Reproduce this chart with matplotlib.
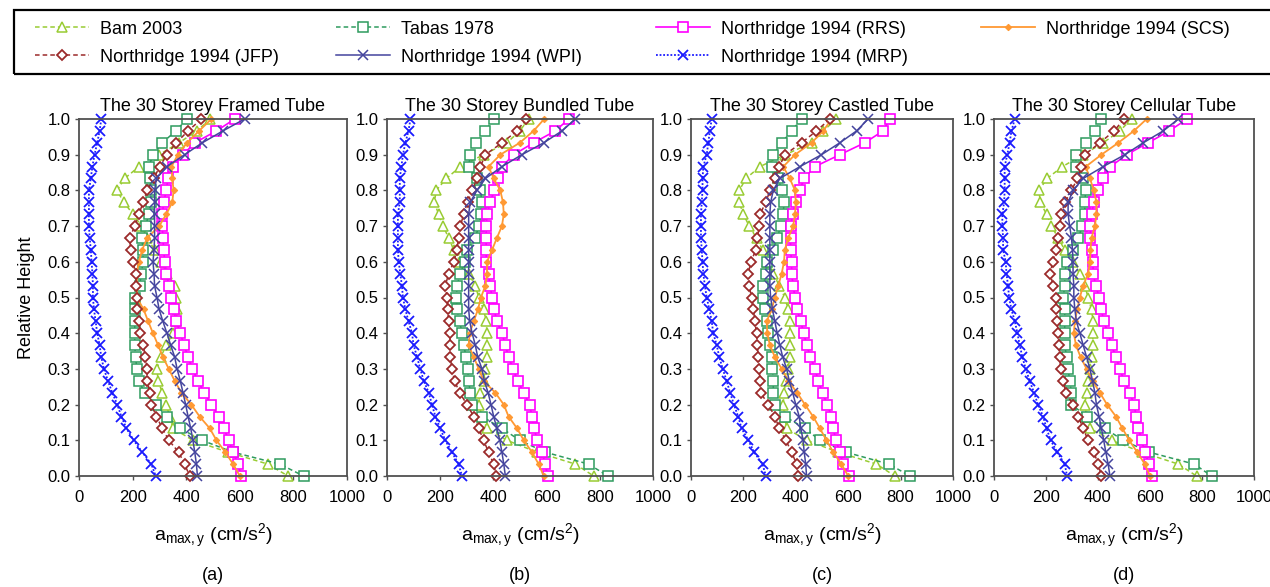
import matplotlib
matplotlib.use('Agg')
import matplotlib.pyplot as plt
from matplotlib.patches import Rectangle

plt.rcParams['font.family'] = ['Liberation Sans', 'DejaVu Sans']
plt.rcParams['mathtext.fontset'] = 'custom'
plt.rcParams['mathtext.rm'] = 'Liberation Sans'
plt.rcParams['mathtext.it'] = 'Liberation Sans'

# ---------------- data ----------------
storey = list(range(30, -1, -1))          # storey levels, top to bottom
n_storeys = 30
rel_height = [s / n_storeys for s in storey]

series_names = ['Bam 2003', 'Tabas 1978', 'Northridge 1994 (RRS)', 'Northridge 1994 (SCS)',
                'Northridge 1994 (JFP)', 'Northridge 1994 (WPI)', 'Northridge 1994 (MRP)']
panel_titles = ['The 30 Storey Framed Tube', 'The 30 Storey Bundled Tube',
                'The 30 Storey Castled Tube', 'The 30 Storey Cellular Tube']
panel_tags = ['(a)', '(b)', '(c)', '(d)']
x_ticks = [0, 200, 400, 600, 800, 1000]
y_ticks = [0.0, 0.1, 0.2, 0.3, 0.4, 0.5, 0.6, 0.7, 0.8, 0.9, 1.0]

# panel (a) Framed Tube
bam_a = [490, 440, 373, 299, 224, 170, 142, 167, 202, 233, 255, 282, 307, 328, 357, 363, 367, 363, 351, 326, 305, 291, 295, 311, 326, 338, 351, 425, 556, 705, 780]
tabas_a = [403, 361, 311, 276, 261, 264, 270, 267, 260, 249, 235, 239, 239, 233, 226, 208, 208, 208, 208, 208, 211, 216, 223, 245, 286, 328, 378, 459, 575, 749, 838]
rrs_a = [581, 513, 432, 388, 351, 332, 326, 316, 311, 311, 313, 316, 320, 326, 336, 345, 353, 363, 378, 392, 407, 423, 444, 467, 494, 522, 541, 559, 575, 593, 606]
scs_a = [494, 448, 403, 369, 345, 348, 353, 348, 326, 299, 254, 236, 223, 216, 216, 216, 241, 258, 276, 295, 313, 335, 357, 382, 419, 450, 488, 513, 546, 575, 600]
jfp_a = [457, 407, 363, 328, 301, 279, 254, 239, 224, 208, 189, 193, 202, 211, 214, 216, 218, 223, 229, 239, 248, 254, 255, 264, 270, 289, 311, 335, 372, 394, 413]
wpi_a = [618, 537, 460, 394, 328, 289, 282, 282, 282, 282, 282, 280, 276, 280, 282, 291, 299, 313, 328, 342, 357, 366, 378, 388, 398, 407, 417, 425, 432, 438, 442]
mrp_a = [83, 77, 68, 58, 50, 44, 37, 37, 37, 37, 40, 44, 47, 50, 52, 52, 56, 62, 68, 77, 83, 93, 108, 124, 143, 158, 177, 204, 236, 270, 286]

# panel (b) Bundled Tube
bam_b = [533, 499, 451, 363, 276, 223, 185, 178, 194, 211, 232, 251, 276, 307, 332, 345, 363, 373, 376, 376, 376, 370, 363, 348, 345, 357, 376, 451, 564, 708, 777]
tabas_b = [401, 370, 336, 313, 307, 338, 351, 357, 353, 345, 332, 301, 292, 276, 263, 261, 263, 273, 282, 288, 298, 303, 307, 313, 320, 357, 432, 499, 595, 758, 830]
rrs_b = [683, 633, 551, 476, 432, 416, 403, 388, 376, 373, 373, 373, 373, 382, 388, 395, 403, 413, 432, 445, 457, 474, 491, 514, 536, 545, 554, 564, 583, 595, 604]
scs_b = [591, 551, 499, 426, 382, 401, 426, 436, 439, 432, 413, 395, 376, 376, 370, 353, 342, 326, 311, 307, 326, 345, 363, 407, 439, 457, 489, 514, 545, 570, 589]
jfp_b = [523, 489, 432, 370, 351, 338, 320, 303, 288, 276, 269, 263, 251, 232, 219, 226, 228, 232, 236, 238, 238, 244, 254, 273, 301, 326, 345, 363, 382, 401, 411]
wpi_b = [708, 658, 589, 507, 432, 370, 338, 313, 307, 307, 307, 307, 307, 307, 307, 307, 307, 311, 320, 332, 341, 357, 366, 380, 391, 401, 413, 424, 432, 439, 445]
mrp_b = [88, 81, 69, 60, 54, 48, 48, 48, 41, 41, 41, 41, 44, 50, 56, 60, 69, 81, 94, 100, 113, 125, 138, 157, 169, 182, 200, 219, 244, 269, 282]

# panel (c) Castled Tube
bam_c = [555, 505, 460, 360, 263, 210, 184, 184, 200, 222, 250, 273, 291, 314, 337, 358, 371, 377, 377, 377, 377, 371, 362, 355, 352, 358, 365, 441, 562, 708, 778]
tabas_c = [422, 384, 346, 314, 308, 333, 346, 355, 352, 342, 329, 314, 291, 286, 276, 273, 282, 289, 295, 301, 308, 311, 314, 314, 320, 358, 435, 492, 591, 756, 835]
rrs_c = [759, 733, 663, 568, 473, 431, 416, 400, 388, 380, 380, 380, 384, 384, 390, 397, 405, 418, 431, 441, 456, 473, 486, 502, 520, 536, 543, 553, 568, 581, 604]
scs_c = [536, 505, 460, 397, 352, 377, 397, 400, 397, 390, 371, 358, 355, 346, 333, 320, 308, 289, 291, 301, 320, 346, 371, 405, 435, 466, 492, 517, 543, 574, 600]
jfp_c = [530, 479, 422, 358, 337, 320, 301, 286, 263, 261, 253, 248, 228, 219, 222, 231, 238, 244, 250, 253, 257, 261, 263, 266, 295, 320, 337, 362, 384, 403, 409]
wpi_c = [676, 632, 568, 498, 416, 339, 314, 304, 301, 301, 301, 301, 301, 301, 301, 304, 311, 320, 329, 339, 350, 365, 375, 388, 400, 413, 419, 428, 432, 438, 441]
mrp_c = [79, 72, 66, 60, 47, 44, 44, 41, 38, 38, 38, 41, 44, 47, 53, 60, 70, 79, 85, 98, 108, 121, 136, 149, 164, 180, 193, 219, 241, 273, 286]

# panel (d) Cellular Tube
bam_d = [529, 484, 420, 343, 263, 204, 173, 178, 202, 221, 247, 272, 302, 330, 349, 362, 375, 381, 381, 379, 375, 369, 362, 356, 349, 356, 369, 452, 568, 709, 779]
tabas_d = [413, 388, 353, 315, 315, 343, 353, 349, 349, 340, 324, 304, 279, 272, 272, 266, 272, 272, 272, 272, 279, 285, 291, 298, 298, 358, 426, 497, 597, 770, 837]
rrs_d = [743, 674, 593, 510, 448, 420, 401, 384, 375, 371, 371, 375, 381, 381, 392, 404, 413, 422, 439, 452, 469, 484, 500, 523, 538, 548, 555, 568, 580, 597, 606]
scs_d = [587, 538, 478, 413, 353, 369, 384, 394, 394, 388, 375, 371, 369, 362, 343, 330, 320, 311, 307, 315, 333, 356, 379, 407, 435, 469, 494, 520, 551, 580, 600]
jfp_d = [500, 462, 407, 349, 336, 321, 298, 272, 259, 253, 247, 240, 225, 217, 227, 238, 240, 243, 247, 250, 253, 256, 266, 276, 304, 324, 343, 362, 384, 401, 413]
wpi_d = [709, 651, 574, 503, 420, 343, 304, 285, 285, 291, 298, 302, 304, 304, 307, 307, 311, 317, 330, 343, 356, 369, 379, 388, 394, 404, 413, 422, 430, 439, 446]
mrp_d = [80, 67, 60, 51, 41, 41, 41, 39, 32, 32, 35, 35, 45, 48, 54, 58, 67, 80, 90, 99, 109, 122, 137, 154, 169, 189, 202, 218, 243, 272, 281]

panels = [
    [bam_a, tabas_a, rrs_a, scs_a, jfp_a, wpi_a, mrp_a],
    [bam_b, tabas_b, rrs_b, scs_b, jfp_b, wpi_b, mrp_b],
    [bam_c, tabas_c, rrs_c, scs_c, jfp_c, wpi_c, mrp_c],
    [bam_d, tabas_d, rrs_d, scs_d, jfp_d, wpi_d, mrp_d],
]

# ---------------- styles ----------------
dash = (0, (3, 2))
styles = [
    dict(color='#99CC33', ls=dash, lw=1.1, marker='^', ms=6.5, mfc='white', mew=1.1),
    dict(color='#2E9B5E', ls=dash, lw=1.1, marker='s', ms=6.5, mfc='white', mew=1.1),
    dict(color='#FF00FF', ls='-', lw=1.2, marker='s', ms=6.5, mfc='white', mew=1.2),
    dict(color='#FF9933', ls='-', lw=1.3, marker='D', ms=3.2, mfc='#FF9933', mew=0.8),
    dict(color='#9B2A2A', ls=dash, lw=1.1, marker='D', ms=5, mfc='white', mew=1.3),
    dict(color='#44449E', ls='-', lw=1.1, marker='x', ms=6.5, mew=1.1),
    dict(color='#1A1AFF', ls=(0, (1, 1)), lw=1.3, marker='x', ms=6.5, mew=1.3),
]

W, H = 1270, 587
fig = plt.figure(figsize=(W / 100, H / 100), dpi=100)

ax_left_px = [79, 387, 691, 994]
ax_width_px = [268, 266, 262, 260]
ax_top_px, ax_bot_px = 119, 476
spine_col = '#505050'

handles = None
for i in range(4):
    ax = fig.add_axes([ax_left_px[i] / W, 1 - ax_bot_px / H, ax_width_px[i] / W,
                       (ax_bot_px - ax_top_px) / H])
    hs = []
    for vals, st in zip(panels[i], styles):
        h, = ax.plot(vals, rel_height, clip_on=False, **st)
        hs.append(h)
    if handles is None:
        handles = hs
    ax.set_xlim(0, 1000)
    ax.set_ylim(0, 1.0)
    ax.set_xticks(x_ticks)
    ax.set_xticklabels([str(t) for t in x_ticks])
    ax.set_yticks(y_ticks)
    ax.set_yticklabels(['%.1f' % t for t in y_ticks])
    for s in ax.spines.values():
        s.set_color(spine_col)
        s.set_linewidth(1.3)
    ax.tick_params(axis='both', direction='out', length=3, width=1, color=spine_col,
                   labelsize=12, labelcolor='black')
    ax.tick_params(axis='x', pad=7)
    ax.tick_params(axis='y', pad=3)
    ax.set_title(panel_titles[i], fontsize=13, pad=6)
    ax.set_xlabel(r'$\mathregular{a_{max,y}\ (cm/s^2)}$', fontsize=14, labelpad=12)
    if i == 0:
        ax.set_ylabel('Relative Height', fontsize=13, labelpad=9)
    cx = (ax_left_px[i] + ax_width_px[i] / 2) / W
    fig.text(cx, 1 - 575 / H, panel_tags[i], ha='center', va='center', fontsize=13)

# ---------------- legend ----------------
leg_pos = [(35, 29), (336, 29), (656, 29), (981, 29), (35, 57), (336, 57), (656, 57)]
for h, name, (lx, ly) in zip(handles, series_names, leg_pos):
    fig.legend(handles=[h], labels=[name], loc='center left',
               bbox_to_anchor=(lx / W, 1 - ly / H), bbox_transform=fig.transFigure,
               frameon=False, fontsize=13, handlelength=3.0, handletextpad=0.6,
               borderpad=0, borderaxespad=0, numpoints=1)

fig.add_artist(Rectangle((14 / W, 1 - 74 / H), 1.0, 64 / H, fill=False, lw=1.6,
                         ec='black', transform=fig.transFigure, clip_on=False))

fig.savefig('out.png', dpi=100)
